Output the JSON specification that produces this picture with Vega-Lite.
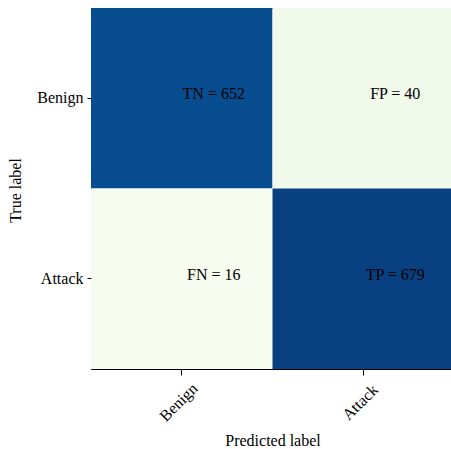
{
  "$schema": "https://vega.github.io/schema/vega-lite/v6.json",
  "autosize": "none",
  "width": 363,
  "height": 361,
  "padding": {"left": 91, "top": 8, "right": 0, "bottom": 80},
  "background": "white",
  "config": {
    "view": {"stroke": "#000000", "strokeWidth": 1},
    "font": "Liberation Serif"
  },
  "data": {
    "values": [
      {"actual": "Benign", "predicted": "Benign", "count": 652, "label": "TN = 652"},
      {"actual": "Benign", "predicted": "Attack", "count": 40, "label": "FP = 40"},
      {"actual": "Attack", "predicted": "Benign", "count": 16, "label": "FN = 16"},
      {"actual": "Attack", "predicted": "Attack", "count": 679, "label": "TP = 679"}
    ]
  },
  "encoding": {
    "x": {
      "field": "predicted", "type": "nominal", "sort": ["Benign", "Attack"],
      "scale": {"paddingInner": 0, "paddingOuter": 0},
      "axis": {
        "title": "Predicted label", "titleFont": "Liberation Serif", "titleFontSize": 16, "titleFontWeight": "normal", "titleColor": "#000",
        "titleY": 71, "titleBaseline": "middle",
        "labelAngle": -45, "labelAlign": "center", "labelBaseline": "middle", "labelPadding": 27, "labelOffset": -3,
        "labelFont": "Liberation Serif", "labelFontSize": 16, "labelColor": "#000",
        "tickSize": 6, "tickColor": "#000", "domain": false
      }
    },
    "y": {
      "field": "actual", "type": "nominal", "sort": ["Benign", "Attack"],
      "scale": {"paddingInner": 0, "paddingOuter": 0},
      "axis": {
        "title": "True label", "titleFont": "Liberation Serif", "titleFontSize": 16, "titleFontWeight": "normal", "titleColor": "#000",
        "titleX": -76, "titleY": 182, "titleAngle": -90, "titleAlign": "center", "titleBaseline": "middle",
        "labelAngle": 0, "labelPadding": 4,
        "labelFont": "Liberation Serif", "labelFontSize": 16, "labelColor": "#000",
        "tickSize": 4, "tickColor": "#000", "domain": false
      }
    }
  },
  "layer": [
    {
      "mark": {"type": "rect"},
      "encoding": {
        "color": {
          "field": "count", "type": "quantitative",
          "scale": {
            "domain": [16, 98.875, 181.75, 264.625, 347.5, 430.375, 513.25, 596.125, 679],
            "range": ["#f7fcf0", "#e0f3db", "#ccebc5", "#a8ddb5", "#7bccc4", "#4eb3d3", "#2b8cbe", "#0868ac", "#084081"],
            "interpolate": "rgb"
          },
          "legend": null
        }
      }
    },
    {
      "mark": {"type": "text", "font": "Liberation Serif", "fontSize": 16, "color": "#000", "dx": 32, "dy": -4},
      "encoding": {"text": {"field": "label"}}
    }
  ]
}
